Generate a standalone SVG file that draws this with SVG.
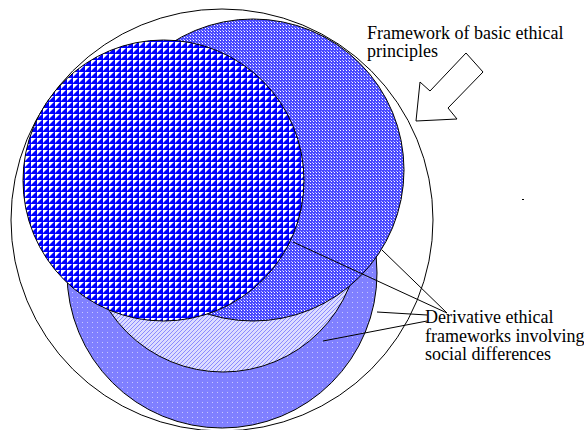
<svg xmlns="http://www.w3.org/2000/svg" width="584" height="430" viewBox="0 0 584 430">
  <style>
    .outline { stroke: #000; stroke-width: 1; }
    .lbl { font-family: "Liberation Serif", "Times New Roman", serif; font-size: 18px; fill: #000; }
    .lead { stroke: #000; stroke-width: 1; fill: none; }
  </style>
  <defs>
    <pattern id="pChecker" width="6" height="6" patternUnits="userSpaceOnUse">
      <rect width="6" height="6" fill="#ffffff"/>
      <polygon points="6,0 6,6 0,6" fill="#0000ff"/>
      <rect x="0" y="0" width="1" height="6" fill="#0000ff"/>
    </pattern>
    <pattern id="pMedium" width="3" height="3" patternUnits="userSpaceOnUse">
      <rect width="3" height="3" fill="#4a4aff"/>
      <rect x="1" y="1" width="1" height="1" fill="#ffffff"/>
      <rect x="0" y="0" width="1" height="1" fill="#b0b0ff"/>
    </pattern>
    <pattern id="pBottom" width="5" height="5" patternUnits="userSpaceOnUse">
      <rect width="5" height="5" fill="#8080ff"/>
      <rect x="2" y="2" width="1" height="1" fill="#c8c8ff"/>
    </pattern>
    <pattern id="pLight" width="4" height="4" patternUnits="userSpaceOnUse">
      <rect width="4" height="4" fill="#dcdcff"/>
      <rect x="0" y="3" width="1" height="1" fill="#8a8aff"/>
      <rect x="1" y="2" width="1" height="1" fill="#8a8aff"/>
      <rect x="2" y="1" width="1" height="1" fill="#8a8aff"/>
      <rect x="3" y="0" width="1" height="1" fill="#8a8aff"/>
    </pattern>
  </defs>

  <g id="outer-framework">
    <circle cx="222" cy="220" r="211" fill="#ffffff" class="outline"/>
  </g>
  <g id="bottom-circle">
    <circle cx="222" cy="273" r="155" fill="url(#pBottom)" class="outline"/>
  </g>
  <g id="light-circle">
    <circle cx="223" cy="236" r="136" fill="url(#pLight)" class="outline"/>
  </g>
  <g id="upper-right-circle">
    <circle cx="253" cy="170" r="151" fill="url(#pMedium)" class="outline"/>
  </g>
  <g id="checker-circle">
    <circle cx="163.5" cy="180.5" r="140.5" fill="url(#pChecker)" class="outline"/>
  </g>

  <g id="connectors">
    <line class="lead" x1="293" y1="242" x2="447" y2="313"/>
    <line class="lead" x1="382" y1="250" x2="447" y2="313"/>
    <line class="lead" x1="377" y1="312" x2="427" y2="315"/>
    <line class="lead" x1="323" y1="341" x2="427" y2="321"/>
  </g>

  <g id="arrow">
    <polygon points="416,121 457,119 448,108 483,72 466,53 430,91 420,82" fill="#ffffff" class="outline"/>
  </g>

  <g id="label-basic">
    <text class="lbl" x="367" y="39">Framework of basic ethical</text>
    <text class="lbl" x="367" y="57.3">principles</text>
  </g>

  <g id="label-derivative">
    <text class="lbl" x="425" y="323.3">Derivative ethical</text>
    <text class="lbl" x="425" y="341.6">frameworks involving</text>
    <text class="lbl" x="425" y="360">social differences</text>
  </g>

  <rect x="522" y="199" width="2" height="1" fill="#000"/>
</svg>
